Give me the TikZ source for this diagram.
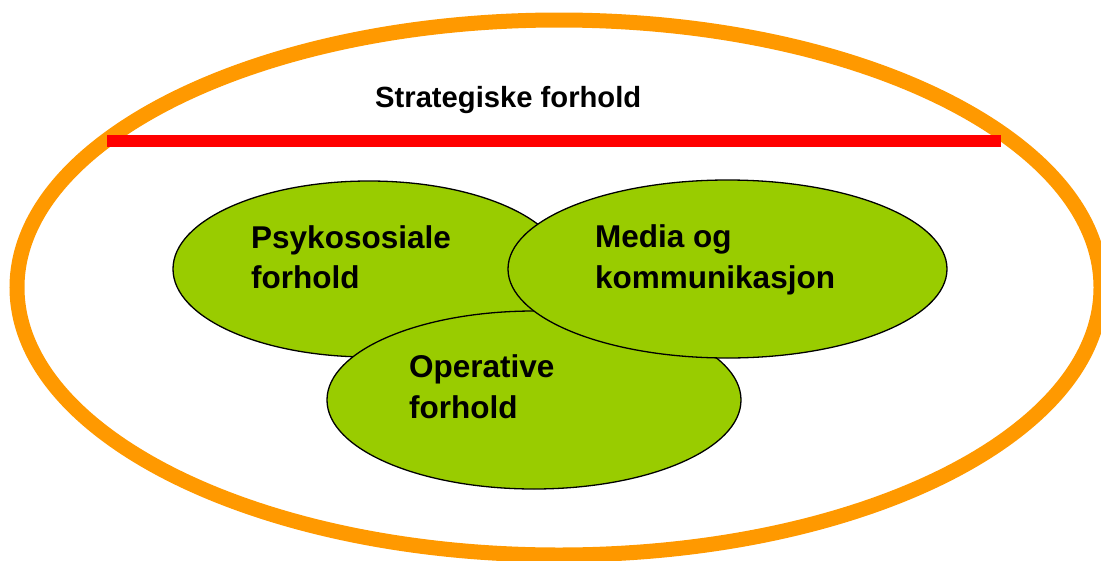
\documentclass[tikz,border=0pt]{standalone}
\usepackage{fontspec}
\setmainfont{Liberation Sans}
\usetikzlibrary{shapes.geometric}
\definecolor{orangeR}{HTML}{FF9900}
\definecolor{greenB}{HTML}{99CC00}
\definecolor{redL}{HTML}{FF0000}
\begin{document}
\begin{tikzpicture}[x=1pt,y=-1pt,
  blob/.style={ellipse,draw=black,line width=1.3pt,fill=greenB,inner sep=0pt},
  lbl/.style={anchor=base west,inner sep=0pt,font=\fontsize{31.5}{36}\selectfont\bfseries},
  ttl/.style={anchor=base west,inner sep=0pt,font=\fontsize{29.2}{34}\selectfont\bfseries}]
\useasboundingbox (0,0) rectangle (1101,560);
\clip (0,0) rectangle (1101,560);
% outer ring
\node[ellipse,draw=orangeR,line width=15pt,minimum width=1084pt,minimum height=535pt,inner sep=0pt] (outer) at (559,287.5) {};
% red divider
\coordinate (redA) at (107,141);
\coordinate (redB) at (1001,141);
\draw[redL,line width=12pt] (redA) -- (redB);
\node[ttl] (title) at (375,107) {Strategiske forhold};
% green ellipses
\node[blob,minimum width=392pt,minimum height=176pt] (psyko) at (369,269) {};
\node[blob,minimum width=414pt,minimum height=178pt] (oper) at (534,400) {};
\node[blob,minimum width=439pt,minimum height=178pt] (media) at (727.5,269) {};
% labels
\node[lbl] (psyA) at (251,248) {Psykososiale};
\node[lbl] (psyB) at (251,288) {forhold};
\node[lbl] (medA) at (595,247) {Media og};
\node[lbl] (medB) at (595,288) {kommunikasjon};
\node[lbl] (opA) at (409,377) {Operative};
\node[lbl] (opB) at (409,418) {forhold};
\end{tikzpicture}
\end{document}
